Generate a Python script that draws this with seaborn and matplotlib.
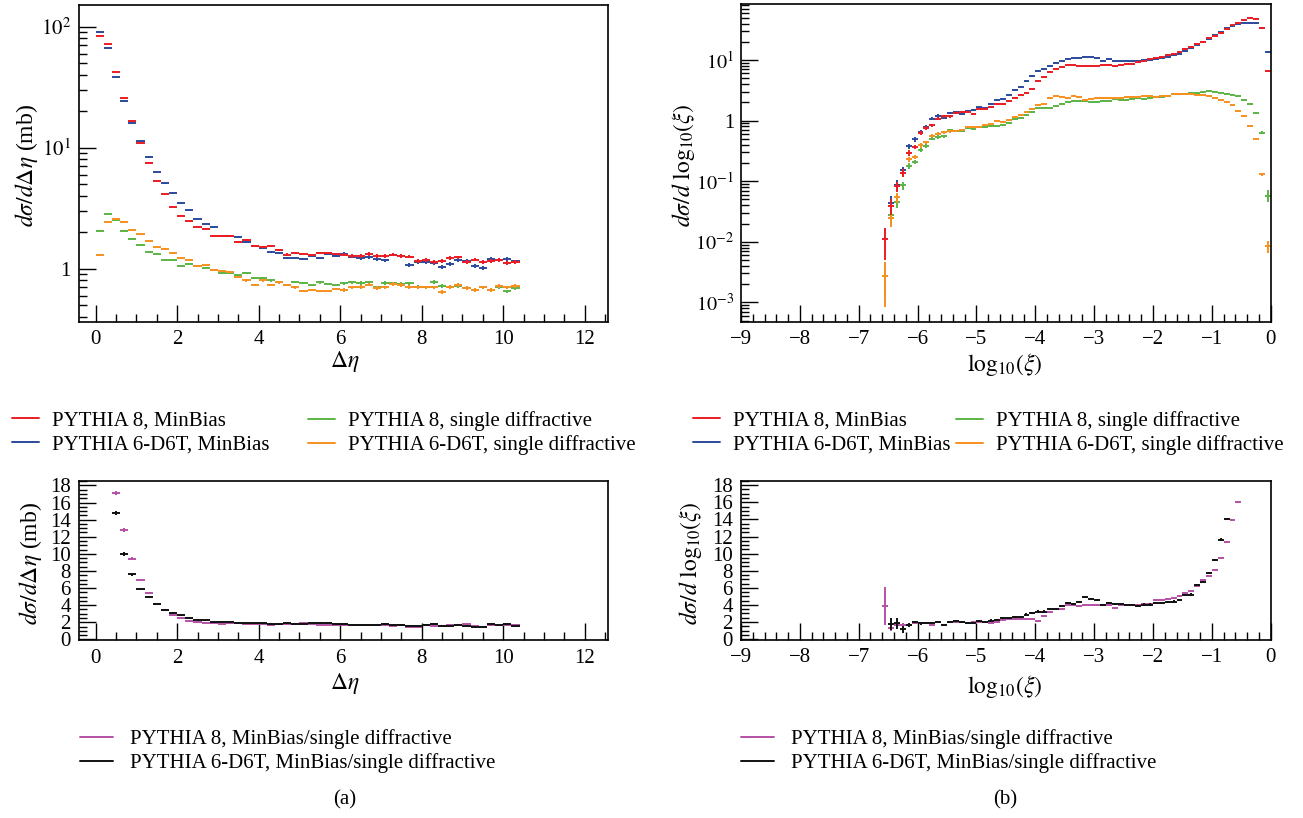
import numpy as np
import matplotlib
matplotlib.use("Agg")
import matplotlib.pyplot as plt
import seaborn as sns
from matplotlib.lines import Line2D
from matplotlib.ticker import MultipleLocator, FixedLocator, FixedFormatter, LogLocator, NullFormatter

nan = np.nan

# ---------------- d sigma / d Delta eta  (mb) ----------------
deta_centres = np.round(0.1 + 0.2 * np.arange(52), 2)

deta_p8_minbias = [84.3, 71.4, 42.5, 25.7, 16.6, 11.0, 7.5, 5.34, 4.14, 3.21, 2.74, 2.46, 2.20,
                   2.14, 1.88, 1.88, 1.88, 1.65, 1.73, 1.55, 1.50, 1.55, 1.43, 1.31, 1.36,
                   1.33, 1.30, 1.36, 1.34, 1.32, 1.31, 1.28, 1.28, 1.32, 1.28, 1.28, 1.31, 1.28,
                   1.26, 1.16, 1.18, 1.14, 1.16, 1.22, 1.24, 1.14, 1.19, 1.13, 1.16, 1.18, 1.12, 1.14]
deta_p6_minbias = [89.8, 67.0, 38.1, 24.5, 16.0, 11.3, 8.4, 6.33, 5.1, 4.25, 3.47, 3.03, 2.57,
                   2.35, 2.22, 1.88, 1.88, 1.83, 1.65, 1.54, 1.49, 1.37, 1.36, 1.22, 1.22,
                   1.20, 1.28, 1.22, 1.33, 1.27, 1.32, 1.26, 1.22, 1.24, 1.21, 1.17, 1.31, 1.27,
                   1.08, 1.13, 1.13, 1.11, 1.03, 1.09, 1.17, 1.16, 1.06, 1.01, 1.20, 1.18, 1.20, 1.15]
deta_p8_sd = [2.06, 2.85, 2.51, 2.04, 1.77, 1.56, 1.38, 1.32, 1.19, 1.18, 1.06, 1.09, 1.06,
              1.02, 0.98, 0.93, 0.93, 0.88, 0.915, 0.84, 0.84, 0.80, 0.77, 0.73, 0.775,
              0.756, 0.73, 0.77, 0.75, 0.73, 0.756, 0.77, 0.76, 0.77, 0.70, 0.76, 0.756, 0.75,
              0.756, 0.71, 0.70, 0.78, 0.72, 0.71, 0.72, 0.69, 0.67, 0.70, 0.67, 0.70, 0.65, 0.69]
deta_p6_sd = [1.31, 2.43, 2.56, 2.45, 2.09, 1.93, 1.68, 1.52, 1.46, 1.35, 1.22, 1.19, 1.06,
              1.07, 0.97, 0.96, 0.94, 0.86, 0.80, 0.74, 0.80, 0.74, 0.77, 0.73, 0.70,
              0.66, 0.67, 0.66, 0.66, 0.68, 0.67, 0.70, 0.71, 0.74, 0.69, 0.70, 0.75, 0.73,
              0.71, 0.70, 0.70, 0.70, 0.64, 0.71, 0.73, 0.69, 0.67, 0.70, 0.67, 0.72, 0.70, 0.72]
deta_rel_err = [0.01] * 15 + [0.02] * 15 + [0.035] * 22

# MinBias / single diffractive, from Delta eta = 0.5 on
deta_ratio_centres = deta_centres[2:]
deta_ratio_p8 = [17.1, 12.8, 9.43, 6.98, 5.42, 4.1, 3.44, 2.82, 2.51, 2.19, 2.04, 1.96, 1.96,
                 1.84, 1.88, 1.88, 1.81, 1.84, 1.81, 1.73, 1.81, 1.84, 1.84, 1.88, 1.84, 1.73,
                 1.65, 1.69, 1.73, 1.73, 1.73, 1.69, 1.69, 1.65, 1.61, 1.65, 1.49, 1.46, 1.65,
                 1.61, 1.57, 1.65, 1.73, 1.77, 1.61, 1.49, 1.65, 1.69, 1.69, 1.65]
deta_ratio_p6 = [14.8, 9.98, 7.6, 5.86, 5.0, 4.1, 3.44, 3.13, 2.82, 2.54, 2.31, 2.24, 2.0,
                 2.0, 2.0, 1.96, 1.88, 1.88, 1.88, 1.84, 1.81, 1.88, 1.84, 1.81, 1.88, 1.92,
                 1.88, 1.81, 1.84, 1.73, 1.69, 1.73, 1.69, 1.81, 1.69, 1.73, 1.61, 1.53, 1.69,
                 1.81, 1.53, 1.61, 1.65, 1.61, 1.49, 1.42, 1.77, 1.69, 1.77, 1.61]
deta_ratio_err = [0.25, 0.2, 0.15, 0.12] + [0.08] * 46

# ---------------- d sigma / d log10(xi) ----------------
xi_centres = np.round(-6.55 + 0.1 * np.arange(66), 2)

xi_p8_minbias = [0.0111, 0.0394, 0.082, 0.136, 0.292, 0.372, 0.625, 0.757, 0.84, 1.07, 1.18,
                 1.18, 1.32, 1.37, 1.41, 1.29, 1.56, 1.58, 1.66, 1.86, 1.88, 2.09, 2.34, 2.69,
                 2.9, 3.34, 4.47, 5.3, 6.4, 7.1, 7.8, 8.22, 8.43, 8.11, 8.11, 8.11, 8.11, 8.43,
                 8.22, 8.01, 8.43, 8.53, 8.53, 9.44, 9.57, 10.2, 10.7, 11.3, 11.9, 12.8, 13.6,
                 15.1, 16.7, 18.3, 20.2, 22.7, 25.1, 27.8, 31.9, 37.2, 41.1, 45.0, 49.8, 46.7,
                 34.0, 6.7]
xi_p6_minbias = [nan, 0.0436, 0.0875, 0.151, 0.377, 0.49, 0.65, 0.785, 1.07, 1.19, 1.11,
                 1.34, 1.41, 1.30, 1.46, 1.50, 1.68, 1.64, 1.88, 2.17, 2.31, 2.69, 3.17, 3.6,
                 4.47, 5.4, 6.5, 7.05, 7.9, 9.0, 9.6, 10.2, 10.6, 10.7, 11.1, 11.0, 10.6, 9.8,
                 10.3, 9.7, 9.8, 9.7, 9.7, 9.57, 10.1, 10.1, 10.3, 10.7, 11.4, 12.0, 12.8, 14.0,
                 15.9, 17.6, 19.5, 22.4, 25.7, 28.8, 33.6, 36.3, 39.1, 40.6, 41.1, 41.1, 34.0,
                 13.5]
xi_p8_sd = [0.0027, 0.0276, 0.045, 0.085, 0.18, 0.21, 0.33, 0.386, 0.50, 0.537, 0.55, 0.69,
            0.68, 0.667, 0.757, 0.73, 0.776, 0.786, 0.81, 0.80, 0.85, 0.93, 1.07, 1.12, 1.23,
            1.37, 1.64, 1.64, 1.64, 1.75, 1.91, 2.04, 2.09, 2.11, 2.09, 2.06, 2.06, 2.11, 2.09,
            2.25, 2.17, 2.17, 2.25, 2.34, 2.31, 2.37, 2.46, 2.43, 2.56, 2.72, 2.76, 2.76, 2.83,
            2.83, 2.98, 3.05, 3.02, 2.90, 2.79, 2.62, 2.59, 2.17, 1.91, 1.36, 0.63, 0.058]
xi_p6_sd = [0.0027, 0.0249, 0.054, 0.136, 0.23, 0.254, 0.39, 0.438, 0.565, 0.61, 0.64, 0.667,
            0.67, 0.69, 0.786, 0.776, 0.79, 0.85, 0.89, 0.975, 0.94, 1.03, 1.16, 1.24, 1.37,
            1.54, 1.79, 1.88, 2.37, 2.52, 2.46, 2.34, 2.56, 2.43, 2.22, 2.31, 2.37, 2.40, 2.40,
            2.37, 2.40, 2.43, 2.49, 2.49, 2.52, 2.52, 2.49, 2.56, 2.56, 2.72, 2.72, 2.72, 2.76,
            2.69, 2.62, 2.59, 2.40, 2.22, 2.06, 1.79, 1.43, 1.19, 0.81, 0.49, 0.13, 0.0084]
xi_low_rel_err = [0.55, 0.3, 0.2, 0.15, 0.1, 0.08, 0.08, 0.07, 0.06, 0.06, 0.05, 0.05]
xi_minbias_rel_err = xi_low_rel_err + [0.03] * 52 + [0.03, 0.04]
xi_sd_rel_err = xi_low_rel_err + [0.03] * 52 + [0.06, 0.22]
xi_p6_sd_rel_err = [0.69] + xi_sd_rel_err[1:]

# MinBias / single diffractive
xi_ratio_p8 = [3.89, 1.36, 1.67, 1.63, 1.67, 1.87, 1.83, 1.83, 1.71, 1.95, 1.71, 1.95, 2.02,
               2.02, 1.87, 1.95, 2.06, 1.95, 1.83, 2.06, 2.26, 2.41, 2.41, 2.41, 2.33, 2.37,
               2.14, 2.65, 3.15, 3.50, 3.50, 4.05, 4.05, 3.85, 3.97, 4.01, 4.01, 4.01, 4.01,
               3.66, 3.97, 3.97, 3.97, 3.97, 4.16, 4.16, 4.55, 4.55, 4.71, 4.79, 5.02, 5.41,
               5.64, 6.26, 6.89, 7.35, 8.09, 9.51, 11.34, 13.9, 16.0]
xi_ratio_p6 = [nan, 1.75, 1.83, 1.17, 1.67, 2.02, 1.83, 1.87, 1.87, 2.02, 1.67, 2.06, 2.14,
               1.95, 1.87, 1.87, 2.14, 2.02, 2.18, 2.26, 2.49, 2.45, 2.61, 2.61, 2.88, 3.07,
               3.23, 3.23, 3.50, 3.50, 3.89, 4.28, 4.16, 4.36, 4.90, 4.71, 4.55, 4.00, 4.24,
               4.09, 4.16, 4.00, 4.00, 3.85, 4.05, 4.05, 4.24, 4.20, 4.36, 4.40, 4.59, 5.18,
               5.22, 6.34, 6.69, 7.74, 9.26, 11.65, 14.07]
xi_ratio_p8_err = [2.2, 0.35, 0.3, 0.2, 0.15] + [0.1] * 56
xi_ratio_p6_err = [0.0, 0.7, 0.6, 0.4, 0.2] + [0.12] * 54

labels_minbias = ["PYTHIA 8, MinBias", "PYTHIA 6-D6T, MinBias"]
labels_sd = ["PYTHIA 8, single diffractive", "PYTHIA 6-D6T, single diffractive"]
labels_ratio = ["PYTHIA 8, MinBias/single diffractive",
                "PYTHIA 6-D6T, MinBias/single diffractive"]

# ---------------- style ----------------
sns.set_theme(style="ticks")
palette = sns.color_palette(["#ec1c24", "#2c4b9c", "#5bb446", "#f7901e", "#b552a6", "#111111"])
c_red, c_blue, c_green, c_orange, c_pink, c_black = palette
plt.rcParams.update({
    "font.family": ["Liberation Serif", "DejaVu Serif"],
    "mathtext.fontset": "stix",
    "axes.edgecolor": "black",
    "axes.linewidth": 1.2,
    "xtick.color": "black",
    "ytick.color": "black",
    "text.color": "black",
})

W, H = 1303, 818
fig = plt.figure(figsize=(W / 100, H / 100), dpi=100)
fig.patch.set_facecolor("white")


def add_axes_px(left, top, right, bottom):
    return fig.add_axes([left / W, 1 - bottom / H, (right - left) / W, (bottom - top) / H])


def style_axes(ax):
    ax.set_facecolor("white")
    ax.grid(False)
    ax.tick_params(which="both", direction="in", top=False, right=False,
                   labelsize=15, width=1.0, colors="black")
    ax.tick_params(which="major", length=12)
    ax.tick_params(which="minor", length=6)
    ax.tick_params(axis="x", which="both", pad=6)
    ax.tick_params(axis="y", which="both", pad=6)
    for s in ax.spines.values():
        s.set_visible(True)
        s.set_linewidth(1.2)
        s.set_color("black")


def draw_points(ax, x, y, half_width, err, color, z=2):
    x = np.asarray(x, float)
    y = np.asarray(y, float)
    err = np.asarray(err, float)
    ok = np.isfinite(y)
    ax.errorbar(x[ok], y[ok], xerr=half_width, yerr=err[ok], fmt="none",
                ecolor=color, elinewidth=1.4, capsize=0, zorder=z)


def legend_px(colors, labels, x, y, hlen, hpad):
    handles = [Line2D([], [], color=c, lw=1.4) for c in colors]
    fig.legend(handles, labels, loc="upper left", bbox_to_anchor=(x / W, 1 - y / H),
               ncol=1, frameon=False, fontsize=15, handlelength=hlen,
               handletextpad=hpad, borderpad=0, borderaxespad=0, labelspacing=0.22)


def text_px(x, y, s, **kw):
    fig.text(x / W, 1 - y / H, s, ha="center", va="center", **kw)


# ---------------- (a) top: Delta eta spectra ----------------
ax1 = add_axes_px(79.3, 5, 608, 321.7)
style_axes(ax1)
ax1.set_yscale("log")
for vals, col in [(deta_p8_sd, c_green), (deta_p6_sd, c_orange),
                  (deta_p6_minbias, c_blue), (deta_p8_minbias, c_red)]:
    v = np.asarray(vals)
    draw_points(ax1, deta_centres, v, 0.1, v * np.asarray(deta_rel_err), col)
ax1.set_xlim(-0.4, 12.57)
ax1.set_ylim(0.365, 151)
ax1.xaxis.set_major_locator(MultipleLocator(2))
ax1.xaxis.set_minor_locator(MultipleLocator(0.5))
ax1.yaxis.set_major_locator(FixedLocator([1, 10, 100]))
ax1.yaxis.set_major_formatter(FixedFormatter(["1", "$10^{1}$", "$10^{2}$"]))
ax1.yaxis.set_minor_locator(LogLocator(base=10, subs=np.arange(2, 10)))
ax1.yaxis.set_minor_formatter(NullFormatter())

# ---------------- (b) top: log10(xi) spectra ----------------
ax2 = add_axes_px(741, 4, 1270.7, 321.7)
style_axes(ax2)
ax2.set_yscale("log")
for vals, rel, col in [(xi_p8_sd, xi_sd_rel_err, c_green), (xi_p6_sd, xi_p6_sd_rel_err, c_orange),
                       (xi_p6_minbias, xi_minbias_rel_err, c_blue),
                       (xi_p8_minbias, xi_minbias_rel_err, c_red)]:
    v = np.asarray(vals, float)
    draw_points(ax2, xi_centres, v, 0.05, v * np.asarray(rel), col)
ax2.set_xlim(-9, 0)
ax2.set_ylim(4.8e-4, 84)
ax2.xaxis.set_major_locator(MultipleLocator(1))
ax2.xaxis.set_minor_locator(MultipleLocator(0.2))
ax2.yaxis.set_major_locator(FixedLocator([1e-3, 1e-2, 1e-1, 1, 10]))
ax2.yaxis.set_major_formatter(FixedFormatter(["$10^{-3}$", "$10^{-2}$", "$10^{-1}$", "1", "$10^{1}$"]))
ax2.yaxis.set_minor_locator(LogLocator(base=10, subs=np.arange(2, 10)))
ax2.yaxis.set_minor_formatter(NullFormatter())
ax2.tick_params(axis="y", which="both", labelsize=14.5, pad=5)

# ---------------- (a) bottom: ratio vs Delta eta ----------------
ax3 = add_axes_px(79.3, 480.7, 608, 640.3)
style_axes(ax3)
draw_points(ax3, deta_ratio_centres, deta_ratio_p8, 0.1, deta_ratio_err, c_pink)
draw_points(ax3, deta_ratio_centres, deta_ratio_p6, 0.1, deta_ratio_err, c_black, z=3)
ax3.set_xlim(-0.4, 12.57)
ax3.set_ylim(-0.1, 18.55)
ax3.xaxis.set_major_locator(MultipleLocator(2))
ax3.xaxis.set_minor_locator(MultipleLocator(0.5))
ax3.yaxis.set_major_locator(MultipleLocator(2))
ax3.yaxis.set_minor_locator(MultipleLocator(0.5))

# ---------------- (b) bottom: ratio vs log10(xi) ----------------
ax4 = add_axes_px(741, 480.5, 1270.7, 640)
style_axes(ax4)
draw_points(ax4, xi_centres[:len(xi_ratio_p8)], xi_ratio_p8, 0.05, xi_ratio_p8_err, c_pink)
draw_points(ax4, xi_centres[:len(xi_ratio_p6)], xi_ratio_p6, 0.05, xi_ratio_p6_err, c_black, z=3)
ax4.set_xlim(-9, 0)
ax4.set_ylim(-0.1, 18.55)
ax4.xaxis.set_major_locator(MultipleLocator(1))
ax4.xaxis.set_minor_locator(MultipleLocator(0.2))
ax4.yaxis.set_major_locator(MultipleLocator(2))
ax4.yaxis.set_minor_locator(MultipleLocator(0.5))

# ---------------- axis titles ----------------
lab_kw = dict(fontsize=17)
ylab_eta = r"$d\sigma/d\Delta\eta$ (mb)"
ylab_xi = r"$d\sigma/d\ \mathrm{log}_{10}(\xi)$"
xlab_xi = r"$\mathrm{log}_{10}(\xi)$"
text_px(27, 165, ylab_eta, rotation=90, **lab_kw)
text_px(684, 165, ylab_xi, rotation=90, **lab_kw)
text_px(30, 563, ylab_eta, rotation=90, **lab_kw)
text_px(690, 563, ylab_xi, rotation=90, **lab_kw)
text_px(345, 362, r"$\Delta\eta$", **lab_kw)
text_px(1005, 365, xlab_xi, **lab_kw)
text_px(345, 683, r"$\Delta\eta$", **lab_kw)
text_px(1005, 686, xlab_xi, **lab_kw)
text_px(345, 800, "(a)", fontsize=15)
text_px(1005, 800, "(b)", fontsize=15)

# ---------------- legends ----------------
legend_px((c_red, c_blue), labels_minbias, 12, 411, 1.3, 0.6)
legend_px((c_green, c_orange), labels_sd, 308, 411, 1.3, 0.6)
legend_px((c_red, c_blue), labels_minbias, 693, 411, 1.3, 0.6)
legend_px((c_green, c_orange), labels_sd, 956, 411, 1.3, 0.6)
legend_px((c_pink, c_black), labels_ratio, 80, 729, 1.6, 0.8)
legend_px((c_pink, c_black), labels_ratio, 741, 729, 1.6, 0.8)

fig.savefig("out.png", dpi=100, facecolor="white")
